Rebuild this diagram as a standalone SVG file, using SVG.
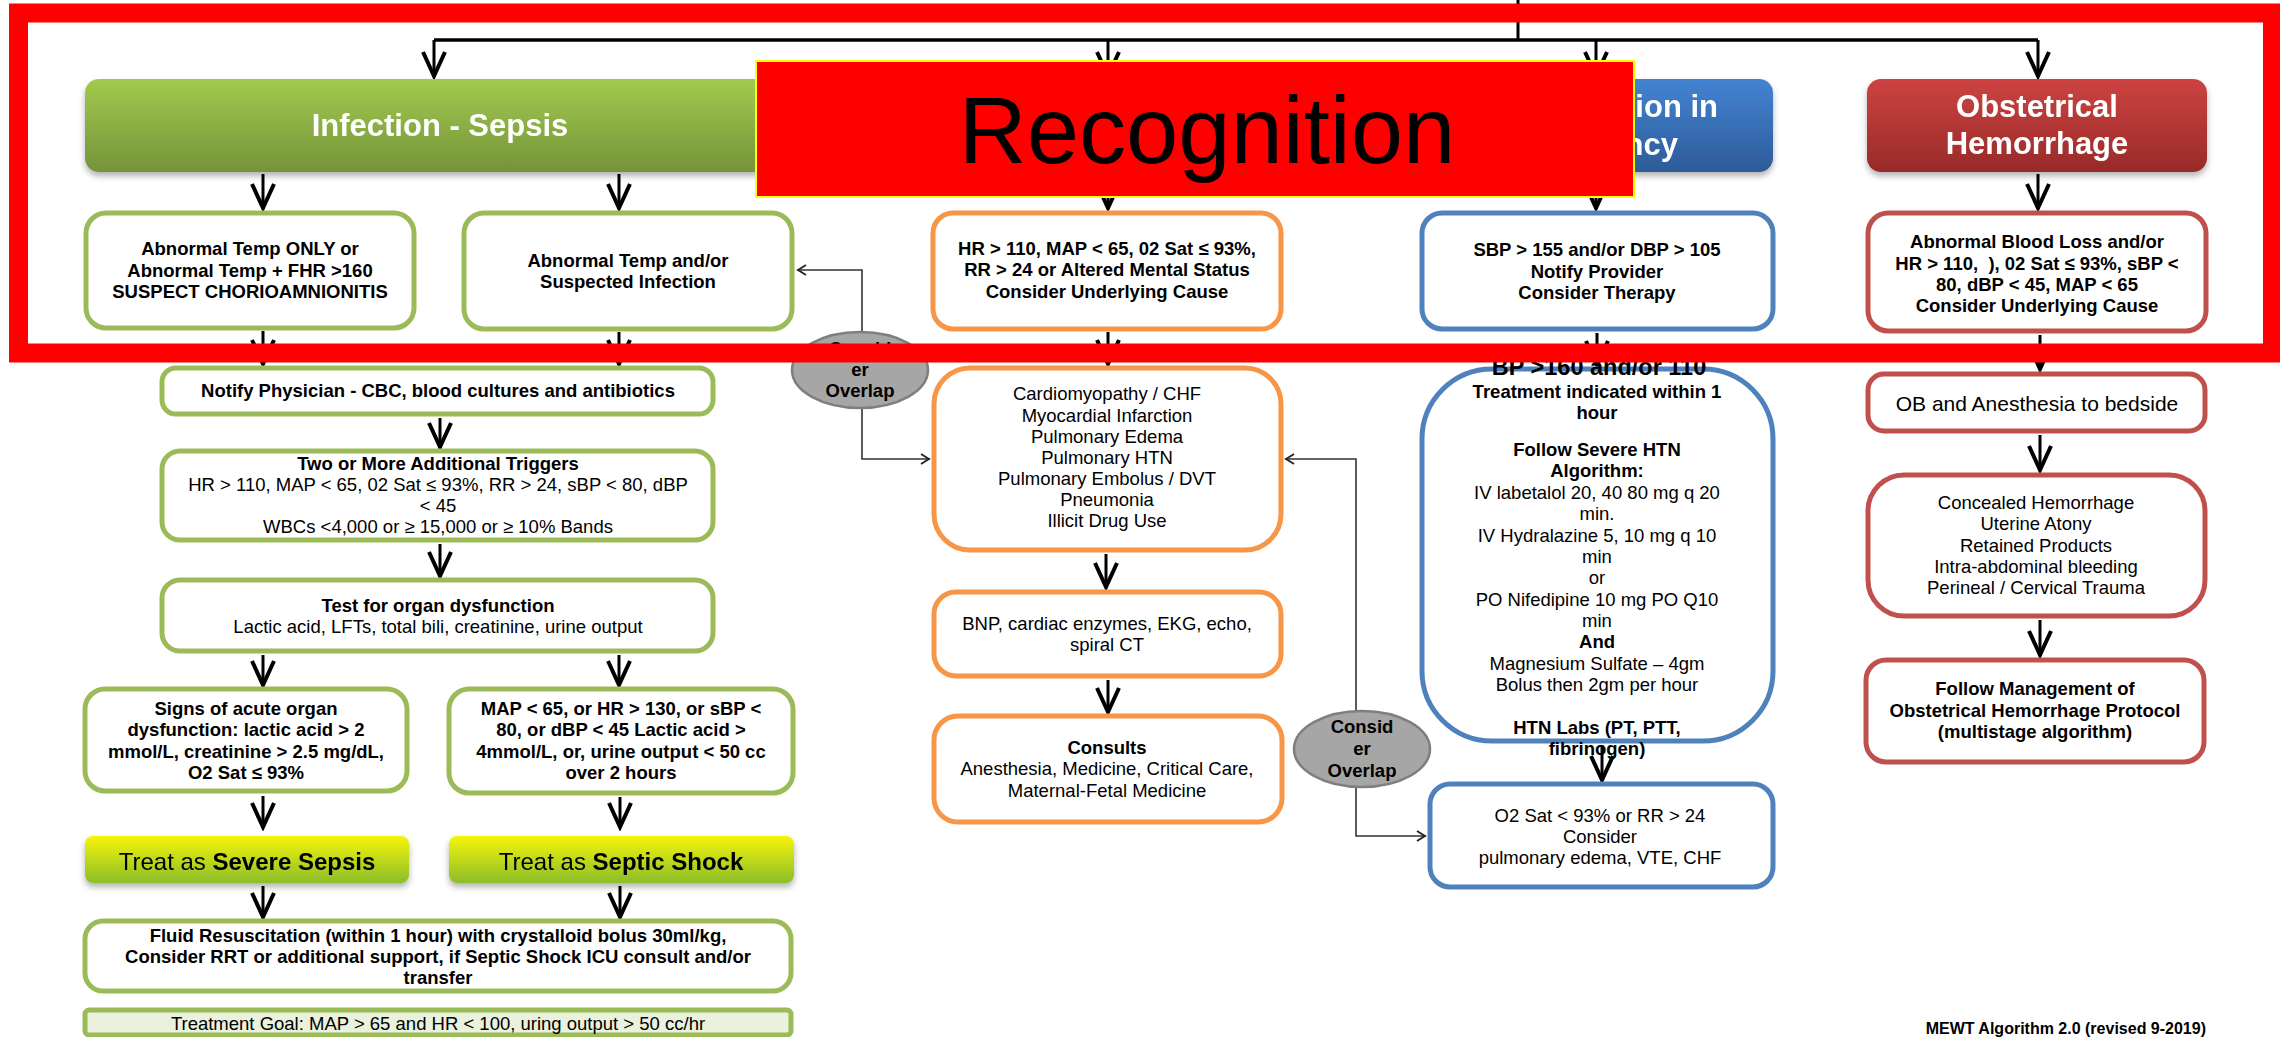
<svg xmlns="http://www.w3.org/2000/svg" width="2280" height="1037" viewBox="0 0 2280 1037">
  <defs>
    <linearGradient id="gGreen" x1="0" y1="0" x2="0" y2="1">
      <stop offset="0" stop-color="#A2CA4E"/>
      <stop offset="1" stop-color="#75933A"/>
    </linearGradient>
    <linearGradient id="gBlue" x1="0" y1="0" x2="0" y2="1">
      <stop offset="0" stop-color="#4383D2"/>
      <stop offset="1" stop-color="#2D5B98"/>
    </linearGradient>
    <linearGradient id="gRed" x1="0" y1="0" x2="0" y2="1">
      <stop offset="0" stop-color="#CD4341"/>
      <stop offset="1" stop-color="#982A29"/>
    </linearGradient>
    <linearGradient id="gTreat" x1="0" y1="0" x2="0" y2="1">
      <stop offset="0" stop-color="#F6F50A"/>
      <stop offset="1" stop-color="#8CBD2A"/>
    </linearGradient>
    <filter id="shadow" x="-5%" y="-20%" width="110%" height="150%">
      <feDropShadow dx="0" dy="4" stdDeviation="3" flood-color="#000" flood-opacity="0.3"/>
    </filter>
    <marker id="ah" viewBox="0 0 30 26" refX="27" refY="13" markerWidth="30" markerHeight="26" orient="auto" markerUnits="userSpaceOnUse">
      <path d="M2,2 L26,13 L2,24" fill="none" stroke="#000" stroke-width="4" stroke-linejoin="miter"/>
    </marker>
    <marker id="sa" viewBox="0 0 12 12" refX="11" refY="6" markerWidth="12" markerHeight="12" orient="auto" markerUnits="userSpaceOnUse">
      <path d="M2,1 L10,6 L2,11" fill="none" stroke="#222" stroke-width="1.8"/>
    </marker>
    <style>
      text { font-family: "Liberation Sans", Arial, Helvetica, sans-serif; text-anchor: middle; fill: #000; font-size: 18.5px; }
      .bd { font-weight: bold; }
      .hd { font-size: 31px; font-weight: bold; fill: #fff; }
      .box { fill: #fff; stroke-width: 5; }
      .g { stroke: #9BBB59; }
      .o { stroke: #F79646; }
      .b { stroke: #4F81BD; }
      .r { stroke: #C0504D; }
      .arw { stroke: #000; stroke-width: 3; fill: none; marker-end: url(#ah); }
      .thin { stroke: #333; stroke-width: 1.6; fill: none; marker-end: url(#sa); }
      .ov { fill: #A6A6A6; stroke: #7F7F7F; stroke-width: 2.5; }
    </style>
  </defs>

  <rect width="2280" height="1037" fill="#fff"/>

  <!-- connectors -->
  <g id="connectors">
    <path d="M1518,0 V40" stroke="#000" stroke-width="3" fill="none"/>
    <path d="M434,40 H2038" stroke="#000" stroke-width="3.5" fill="none"/>
    <path class="arw" d="M434,40 V77"/>
    <path class="arw" d="M1108,40 V77"/>
    <path class="arw" d="M1596,40 V77"/>
    <path class="arw" d="M2038,40 V77"/>

    <path class="arw" d="M263,174 V209"/>
    <path class="arw" d="M619,174 V209"/>
    <path class="arw" d="M1108,174 V209"/>
    <path class="arw" d="M1596,174 V209"/>
    <path class="arw" d="M2038,174 V209"/>

    <!-- sepsis column -->
    <path class="arw" d="M263,331 V365"/>
    <path class="arw" d="M619,332 V365"/>
    <path class="arw" d="M440,418 V448"/>
    <path class="arw" d="M440,544 V577"/>
    <path class="arw" d="M263,655 V686"/>
    <path class="arw" d="M619,655 V686"/>
    <path class="arw" d="M263,796 V828"/>
    <path class="arw" d="M620,797 V828"/>
    <path class="arw" d="M263,886 V918"/>
    <path class="arw" d="M620,886 V918"/>

    <!-- cardiac column -->
    <path class="arw" d="M1108,332 V365"/>
    <path class="arw" d="M1106,554 V588"/>
    <path class="arw" d="M1108,680 V713"/>

    <!-- hypertension column -->
    <path class="arw" d="M1597,333 V366"/>
    <path class="arw" d="M1602,745 V781"/>

    <!-- hemorrhage column -->
    <path class="arw" d="M2040,335 V370"/>
    <path class="arw" d="M2040,435 V471"/>
    <path class="arw" d="M2040,620 V656"/>

    <!-- overlap links -->
    <path class="thin" d="M862,332 V270 H797"/>
    <path class="thin" d="M862,408 V459 H930"/>
    <path class="thin" d="M1356,711 V459 H1285"/>
    <path class="thin" d="M1356,787 V836 H1426"/>
  </g>

  <!-- headers -->
  <g id="hdr-sepsis" filter="url(#shadow)">
    <rect x="85" y="79" width="712" height="93" rx="14" fill="url(#gGreen)"/>
    <text class="hd" x="440" y="136">Infection - Sepsis</text>
  </g>
  <g id="hdr-htn" filter="url(#shadow)">
    <rect x="1419" y="79" width="354" height="93" rx="14" fill="url(#gBlue)"/>
    <text class="hd" x="1718" y="117" style="text-anchor:end">ion in</text>
    <text class="hd" x="1678" y="155" style="text-anchor:end">ncy</text>
  </g>
  <g id="hdr-ob" filter="url(#shadow)">
    <rect x="1867" y="79" width="340" height="93" rx="14" fill="url(#gRed)"/>
    <text class="hd" x="2037" y="117">Obstetrical</text>
    <text class="hd" x="2037" y="154">Hemorrhage</text>
  </g>

  <!-- sepsis column -->
  <g id="n-temp-only">
    <rect class="box g" x="86" y="213" width="328" height="115" rx="20"/>
    <text class="bd" x="250" y="255">Abnormal Temp ONLY or</text>
    <text class="bd" x="250" y="277">Abnormal Temp + FHR &gt;160</text>
    <text class="bd" x="250" y="298">SUSPECT CHORIOAMNIONITIS</text>
  </g>
  <g id="n-temp-and">
    <rect class="box g" x="464" y="213" width="328" height="116" rx="20"/>
    <text class="bd" x="628" y="267">Abnormal Temp and/or</text>
    <text class="bd" x="628" y="288">Suspected Infection</text>
  </g>
  <g id="n-notify">
    <rect class="box g" x="162" y="368" width="551" height="46" rx="14"/>
    <text class="bd" x="438" y="397">Notify Physician - CBC, blood cultures and antibiotics</text>
  </g>
  <g id="n-triggers">
    <rect class="box g" x="162" y="451" width="551" height="89" rx="18"/>
    <text class="bd" x="438" y="470">Two or More Additional Triggers</text>
    <text x="438" y="491">HR &gt; 110, MAP &lt; 65, 02 Sat ≤ 93%, RR &gt; 24, sBP &lt; 80, dBP</text>
    <text x="438" y="512">&lt; 45</text>
    <text x="438" y="533">WBCs &lt;4,000 or ≥ 15,000 or ≥ 10% Bands</text>
  </g>
  <g id="n-test">
    <rect class="box g" x="162" y="580" width="551" height="71" rx="18"/>
    <text class="bd" x="438" y="612">Test for organ dysfunction</text>
    <text x="438" y="633">Lactic acid, LFTs, total bili, creatinine, urine output</text>
  </g>
  <g id="n-signs">
    <rect class="box g" x="85" y="689" width="322" height="102" rx="20"/>
    <text class="bd" x="246" y="715">Signs of acute organ</text>
    <text class="bd" x="246" y="736">dysfunction: lactic acid &gt; 2</text>
    <text class="bd" x="246" y="758">mmol/L, creatinine &gt; 2.5 mg/dL,</text>
    <text class="bd" x="246" y="779">O2 Sat ≤ 93%</text>
  </g>
  <g id="n-shock-signs">
    <rect class="box g" x="449" y="689" width="344" height="104" rx="20"/>
    <text class="bd" x="621" y="715">MAP &lt; 65, or HR &gt; 130, or sBP &lt;</text>
    <text class="bd" x="621" y="736">80, or dBP &lt; 45 Lactic acid &gt;</text>
    <text class="bd" x="621" y="758">4mmol/L, or, urine output &lt; 50 cc</text>
    <text class="bd" x="621" y="779">over 2 hours</text>
  </g>
  <g id="n-treat-sepsis" filter="url(#shadow)">
    <rect x="85" y="836" width="324" height="47" rx="8" fill="url(#gTreat)"/>
    <text x="247" y="870" style="font-size:24px">Treat as <tspan class="bd">Severe Sepsis</tspan></text>
  </g>
  <g id="n-treat-shock" filter="url(#shadow)">
    <rect x="449" y="836" width="345" height="47" rx="8" fill="url(#gTreat)"/>
    <text x="621" y="870" style="font-size:24px">Treat as <tspan class="bd">Septic Shock</tspan></text>
  </g>
  <g id="n-fluid">
    <rect class="box g" x="85" y="921" width="706" height="70" rx="18"/>
    <text class="bd" x="438" y="942">Fluid Resuscitation (within 1 hour) with crystalloid bolus 30ml/kg,</text>
    <text class="bd" x="438" y="963">Consider RRT or additional support, if Septic Shock ICU consult and/or</text>
    <text class="bd" x="438" y="984">transfer</text>
  </g>
  <g id="n-goal">
    <rect x="85" y="1010" width="706" height="25" rx="4" fill="#EAF1DD" stroke="#9BBB59" stroke-width="5"/>
    <text x="438" y="1030">Treatment Goal: MAP &gt; 65 and HR &lt; 100, uring output &gt; 50 cc/hr</text>
  </g>

  <!-- cardiac column -->
  <g id="n-vitals">
    <rect class="box o" x="933" y="213" width="348" height="116" rx="20"/>
    <text class="bd" x="1107" y="255">HR &gt; 110, MAP &lt; 65, 02 Sat ≤ 93%,</text>
    <text class="bd" x="1107" y="276">RR &gt; 24 or Altered Mental Status</text>
    <text class="bd" x="1107" y="298">Consider Underlying Cause</text>
  </g>
  <g id="n-cardiac-dx">
    <rect class="box o" x="934" y="368" width="347" height="182" rx="36"/>
    <text x="1107" y="400">Cardiomyopathy / CHF</text>
    <text x="1107" y="422">Myocardial Infarction</text>
    <text x="1107" y="443">Pulmonary Edema</text>
    <text x="1107" y="464">Pulmonary HTN</text>
    <text x="1107" y="485">Pulmonary Embolus / DVT</text>
    <text x="1107" y="506">Pneumonia</text>
    <text x="1107" y="527">Illicit Drug Use</text>
  </g>
  <g id="n-cardiac-tests">
    <rect class="box o" x="934" y="592" width="347" height="84" rx="22"/>
    <text x="1107" y="630">BNP, cardiac enzymes, EKG, echo,</text>
    <text x="1107" y="651">spiral CT</text>
  </g>
  <g id="n-consults">
    <rect class="box o" x="934" y="716" width="348" height="106" rx="24"/>
    <text class="bd" x="1107" y="754">Consults</text>
    <text x="1107" y="775">Anesthesia, Medicine, Critical Care,</text>
    <text x="1107" y="797">Maternal-Fetal Medicine</text>
  </g>
  <g id="n-overlap-1">
    <ellipse class="ov" cx="860" cy="370" rx="68" ry="38"/>
    <text class="bd" x="860" y="355">Consid</text>
    <text class="bd" x="860" y="376">er</text>
    <text class="bd" x="860" y="397">Overlap</text>
  </g>
  <g id="n-overlap-2">
    <ellipse class="ov" cx="1362" cy="749" rx="68" ry="38"/>
    <text class="bd" x="1362" y="733">Consid</text>
    <text class="bd" x="1362" y="755">er</text>
    <text class="bd" x="1362" y="777">Overlap</text>
  </g>

  <!-- hypertension column -->
  <g id="n-sbp">
    <rect class="box b" x="1422" y="213" width="351" height="116" rx="20"/>
    <text class="bd" x="1597" y="256">SBP &gt; 155 and/or DBP &gt; 105</text>
    <text class="bd" x="1597" y="278">Notify Provider</text>
    <text class="bd" x="1597" y="299">Consider Therapy</text>
  </g>
  <g id="n-severe-htn">
    <rect class="box b" x="1422" y="369" width="351" height="372" rx="70"/>
    <text class="bd" x="1599" y="375" style="font-size:23.5px">BP &gt;160 and/or 110</text>
    <text class="bd" x="1597" y="398">Treatment indicated within 1</text>
    <text class="bd" x="1597" y="419">hour</text>
    <text class="bd" x="1597" y="456">Follow Severe HTN</text>
    <text class="bd" x="1597" y="477">Algorithm:</text>
    <text x="1597" y="499">IV labetalol 20, 40 80 mg q 20</text>
    <text x="1597" y="520">min.</text>
    <text x="1597" y="542">IV Hydralazine 5, 10 mg q 10</text>
    <text x="1597" y="563">min</text>
    <text x="1597" y="584">or</text>
    <text x="1597" y="606">PO Nifedipine 10 mg PO Q10</text>
    <text x="1597" y="627">min</text>
    <text class="bd" x="1597" y="648">And</text>
    <text x="1597" y="670">Magnesium Sulfate – 4gm</text>
    <text x="1597" y="691">Bolus then 2gm per hour</text>
    <text class="bd" x="1597" y="734">HTN Labs (PT, PTT,</text>
    <text class="bd" x="1597" y="755">fibrinogen)</text>
  </g>
  <g id="n-resp">
    <rect class="box b" x="1430" y="784" width="343" height="103" rx="20"/>
    <text x="1600" y="822">O2 Sat &lt; 93% or RR &gt; 24</text>
    <text x="1600" y="843">Consider</text>
    <text x="1600" y="864">pulmonary edema, VTE, CHF</text>
  </g>

  <!-- hemorrhage column -->
  <g id="n-blood-loss">
    <rect class="box r" x="1868" y="213" width="338" height="118" rx="20"/>
    <text class="bd" x="2037" y="248">Abnormal Blood Loss and/or</text>
    <text class="bd" x="2037" y="270">HR &gt; 110,&#160; ), 02 Sat ≤ 93%, sBP &lt;</text>
    <text class="bd" x="2037" y="291">80, dBP &lt; 45, MAP &lt; 65</text>
    <text class="bd" x="2037" y="312">Consider Underlying Cause</text>
  </g>
  <g id="n-ob-bedside">
    <rect class="box r" x="1868" y="374" width="337" height="57" rx="16"/>
    <text x="2037" y="411" style="font-size:21px">OB and Anesthesia to bedside</text>
  </g>
  <g id="n-hem-causes">
    <rect class="box r" x="1868" y="475" width="337" height="141" rx="36"/>
    <text x="2036" y="509">Concealed Hemorrhage</text>
    <text x="2036" y="530">Uterine Atony</text>
    <text x="2036" y="552">Retained Products</text>
    <text x="2036" y="573">Intra-abdominal bleeding</text>
    <text x="2036" y="594">Perineal / Cervical Trauma</text>
  </g>
  <g id="n-hem-protocol">
    <rect class="box r" x="1866" y="660" width="338" height="102" rx="20"/>
    <text class="bd" x="2035" y="695">Follow Management of</text>
    <text class="bd" x="2035" y="717">Obstetrical Hemorrhage Protocol</text>
    <text class="bd" x="2035" y="738">(multistage algorithm)</text>
  </g>

  <text class="bd" x="2206" y="1034" style="text-anchor:end;font-size:16px">MEWT Algorithm 2.0 (revised 9-2019)</text>

  <!-- highlight frame and title banner -->
  <g id="recognition">
    <rect x="18.5" y="13" width="2254" height="340" fill="none" stroke="#FF0000" stroke-width="19"/>
    <rect x="756" y="61" width="878" height="136" fill="#FF0000" stroke="#FFFF00" stroke-width="2"/>
    <text x="1207" y="163" style="font-size:94px">Recognition</text>
  </g>
</svg>
